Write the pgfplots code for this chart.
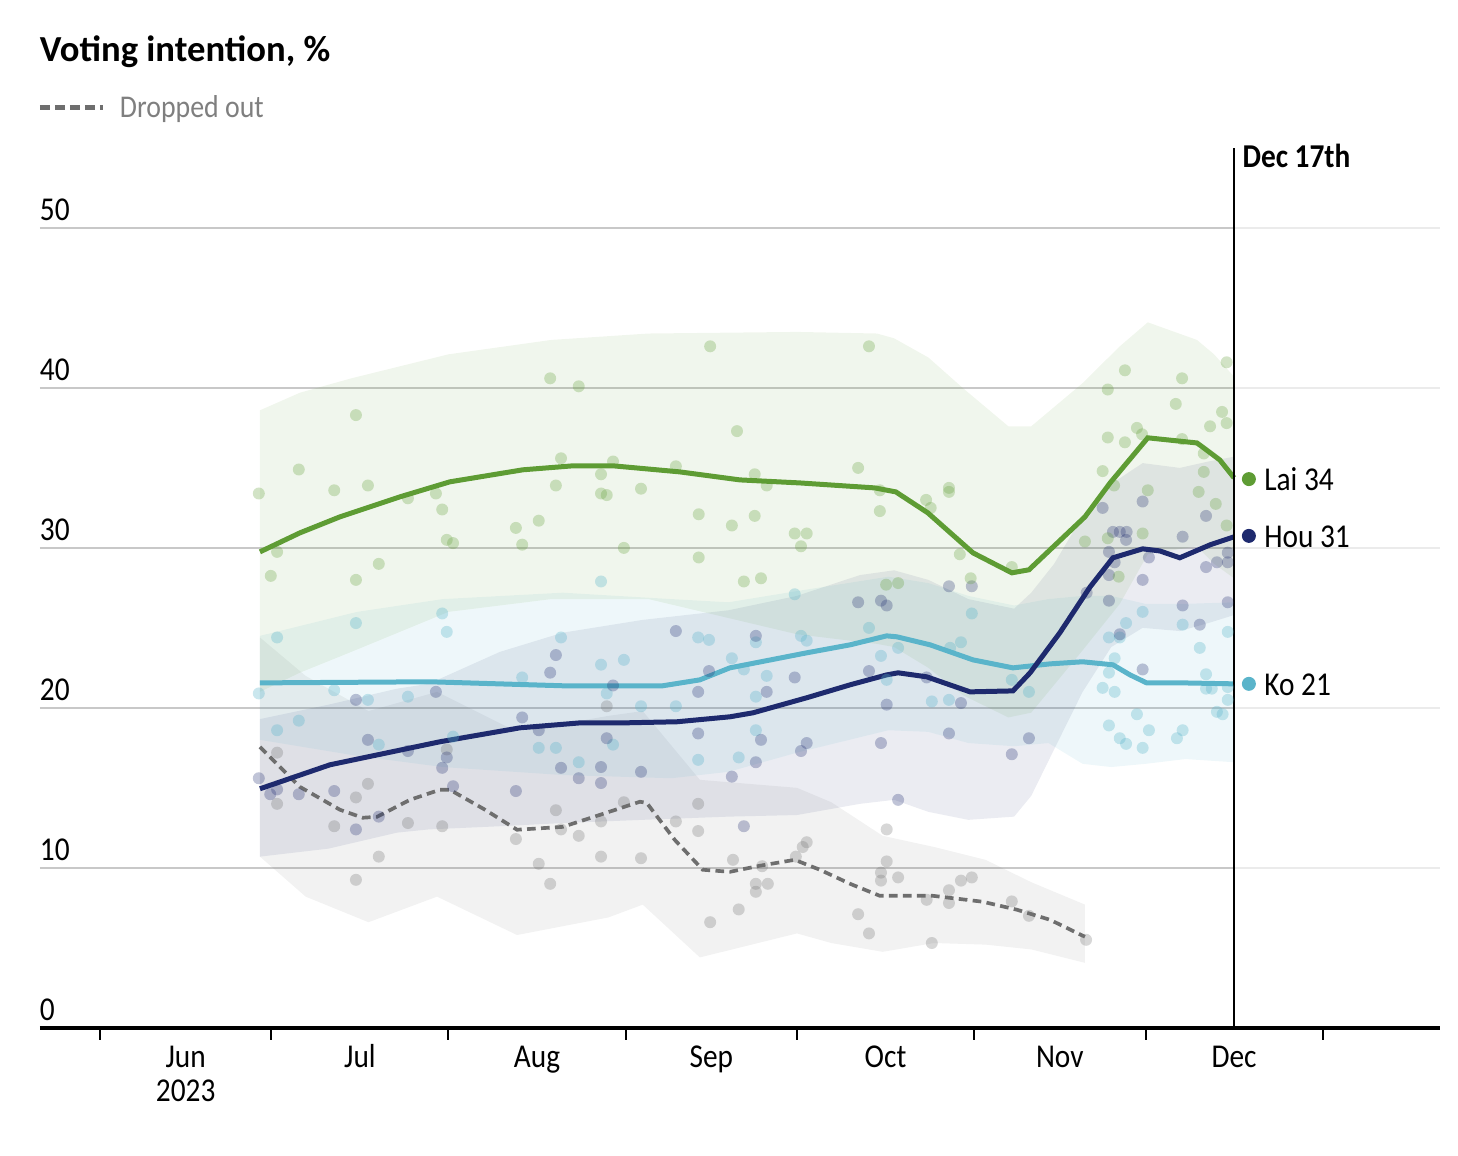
\documentclass[border=0pt]{standalone}
\usepackage{pgfplots}
\pgfplotsset{compat=1.18}
\usepackage{fontspec}
\setmainfont{Carlito}
\newfontfamily\lab{Carlito}[FakeStretch=0.88]
\definecolor{laic}{HTML}{5E9C34}
\definecolor{houc}{HTML}{1E2A6E}
\definecolor{koc}{HTML}{5AB4CA}
\definecolor{dropc}{HTML}{6E6E6E}
\definecolor{gridc}{HTML}{C8C8C8}
\definecolor{gridl}{HTML}{EBEBEB}
\definecolor{legc}{HTML}{7F7F7F}
\tikzset{lbl/.style={inner sep=0pt, outer sep=0pt, font=\lab\fontsize{10}{12}\selectfont}}
\begin{document}
\begin{tikzpicture}
\begin{axis}[
 scale only axis, width=420pt, height=264pt,
 xmin=-10.5, xmax=234.5, ymin=0, ymax=55,
 clip=false,
 axis x line*=bottom, axis y line=none,
 x axis line style={line width=1.2pt, black, -},
 xtick={0,30,61,92,122,153,183,214}, xticklabels={},
 tick align=outside, major tick length=3.6pt,
 xtick style={black, line width=0.6pt},
 ytick=\empty,
]
% canvas
\path (axis cs:-17.5,-8) rectangle (axis cs:237.7,64.25);
% grid
\draw[gridc, line width=0.6pt] (axis cs:-10.5,10) -- (axis cs:198.5,10);
\draw[gridc, line width=0.6pt] (axis cs:-10.5,20) -- (axis cs:198.5,20);
\draw[gridc, line width=0.6pt] (axis cs:-10.5,30) -- (axis cs:198.5,30);
\draw[gridc, line width=0.6pt] (axis cs:-10.5,40) -- (axis cs:198.5,40);
\draw[gridc, line width=0.6pt] (axis cs:-10.5,50) -- (axis cs:198.5,50);
\draw[gridl, line width=0.6pt] (axis cs:198.5,10) -- (axis cs:234.5,10);
\draw[gridl, line width=0.6pt] (axis cs:198.5,20) -- (axis cs:234.5,20);
\draw[gridl, line width=0.6pt] (axis cs:198.5,30) -- (axis cs:234.5,30);
\draw[gridl, line width=0.6pt] (axis cs:198.5,40) -- (axis cs:234.5,40);
\draw[gridl, line width=0.6pt] (axis cs:198.5,50) -- (axis cs:234.5,50);

% bands
\addplot[draw=none, fill=dropc, fill opacity=0.09] coordinates {
(28,24.4)(36,22.0)(47,19.8)(59,21.0)(73,18.5)(89,19.5)(95,19.8)(105,15.5)(122,15.0)(128,14.1)(137,12.0)(146,11.3)(155,10.5)(163,9.1)(172.4,7.7)
(172.4,4.06)(163,4.9)(155,5.2)(146,5.3)(137,4.75)(128,5.3)(122,5.9)(105,4.4)(95,7.7)(89,6.9)(73,5.8)(59,8.2)(47,6.6)(36,8.2)(28,10.7)} -- cycle;
\addplot[draw=none, fill=houc, fill opacity=0.09] coordinates {
(28,19.3)(40,20.2)(52,21.2)(57.5,21.5)(70,23.5)(81,24.7)(95,25.5)(110,26.1)(122,27.0)(133,28.3)(139,28.6)(145,28.0)(152,26.8)(160,26.2)(163,27.2)(167,29.0)(172,32.0)(177,34.0)(182.5,35.3)(189,35.0)(194,35.4)(198.5,35.7)
(198.5,25.8)(194,25.3)(189,24.8)(182.5,25.0)(177,23.8)(172,21.0)(167,17.4)(163,14.5)(160,13.2)(152,13.0)(145,13.5)(139,14.25)(133,14.0)(122,13.3)(110,13.2)(95,13.0)(81,12.8)(70,12.6)(57.5,12.4)(52,12.2)(40,11.2)(28,10.7)} -- cycle;
\addplot[draw=none, fill=koc, fill opacity=0.1] coordinates {
(28,24.5)(45,26.0)(60,26.8)(81,27.2)(100,26.8)(110,26.6)(122,27.3)(138,28.2)(145,27.8)(152,27.0)(160,26.4)(166,26.8)(172,27.0)(177,27.0)(183,26.5)(190,26.5)(198.5,26.6)
(198.5,16.6)(190,16.8)(183,16.5)(177,16.3)(172,16.5)(166,17.8)(160,17.6)(152,17.8)(145,18.5)(138,18.6)(122,17.2)(110,16.0)(100,15.6)(81,15.8)(60,16.3)(45,17.0)(28,18.0)} -- cycle;
\addplot[draw=none, fill=laic, fill opacity=0.09] coordinates {
(28,38.6)(35,39.7)(44,40.6)(61,42.1)(79,43.0)(96,43.4)(122,43.5)(136,43.4)(139,43.1)(145,41.9)(151,40.0)(159,37.6)(163,37.6)(172,40.3)(178.5,42.6)(183.4,44.1)(192,43.0)(195,42.1)(198.5,40.7)
(198.5,28.1)(195,29.0)(192,30.1)(183.4,29.6)(178.5,26.5)(172,23.6)(163,19.7)(159,19.4)(151,20.8)(145,22.5)(139,23.8)(136,24.0)(122,24.6)(96,26.8)(79,26.8)(61,26.0)(44,23.5)(35,22.2)(28,21.0)} -- cycle;

% poll dots
\addplot[only marks, mark=*, mark size=1.8pt, color=dropc, mark options={draw opacity=0, fill=dropc, fill opacity=0.28}] coordinates {
(31.0,17.2)(31.0,14.0)(41.0,12.6)(44.8,14.4)(44.8,9.25)(46.9,15.25)(48.8,10.7)(53.9,12.8)(59.9,12.6)(60.7,17.4)
(72.8,11.8)(76.8,10.25)(78.8,9.0)(79.8,13.6)(80.7,12.4)(83.8,12.0)(87.7,12.9)(87.7,10.7)(88.7,20.1)(91.7,14.1)
(94.7,10.6)(100.8,12.9)(104.7,14.0)(104.7,12.3)(106.8,6.6)(111.8,7.4)(110.8,10.5)(114.8,9.0)(114.8,8.5)(116.9,9.0)
(115.9,10.1)(121.8,10.7)(123.7,11.6)(123.0,11.3)(137.7,12.4)(137.7,10.4)(136.7,9.7)(136.7,9.2)(139.7,9.4)(132.7,7.1)
(134.6,5.9)(144.7,8.0)(145.6,5.3)(148.6,8.6)(148.6,7.8)(150.7,9.2)(152.6,9.4)(159.6,7.9)(162.6,7.0)(172.6,5.5)};
\addplot[only marks, mark=*, mark size=1.8pt, color=koc, mark options={draw opacity=0, fill=koc, fill opacity=0.32}] coordinates {
(27.8,20.9)(31.0,24.4)(31.0,18.6)(34.8,19.2)(41.0,21.1)(44.8,25.3)(46.9,20.5)(48.8,17.7)(53.9,20.7)(59.9,25.9)
(60.7,24.75)(61.8,18.2)(73.9,21.9)(76.8,17.5)(79.8,17.5)(80.7,24.4)(83.8,16.6)(87.7,22.7)(87.7,27.9)(88.7,20.9)
(89.8,17.7)(91.7,23.0)(94.7,20.1)(100.8,20.1)(104.7,24.4)(104.7,16.75)(106.6,24.25)(110.6,23.1)(112.7,22.4)(114.8,24.1)
(114.8,20.7)(114.8,18.6)(116.7,22.0)(111.8,16.9)(121.6,27.1)(122.7,24.5)(123.7,24.2)(134.6,25.0)(136.7,23.25)(137.7,21.75)
(139.7,23.75)(145.6,20.4)(148.6,20.5)(150.7,24.1)(152.6,25.9)(159.6,21.75)(148.8,23.75)(162.6,21.0)(176.6,24.4)(178.5,24.4)
(179.6,25.3)(176.6,22.2)(175.5,21.25)(177.6,21.0)(177.6,23.1)(176.6,18.9)(178.5,18.1)(179.6,17.75)(181.5,19.6)(182.5,17.5)
(183.6,18.6)(182.5,26.0)(189.5,25.2)(188.5,18.1)(189.5,18.6)(192.5,23.75)(193.6,22.1)(193.6,21.2)(194.6,21.2)(197.4,24.75)
(197.4,21.3)(197.4,20.5)(195.5,19.75)(196.5,19.6)};
\addplot[only marks, mark=*, mark size=1.8pt, color=houc, mark options={draw opacity=0, fill=houc, fill opacity=0.28}] coordinates {
(27.8,15.6)(29.8,14.6)(31.0,14.9)(34.8,14.6)(41.0,14.8)(44.8,20.5)(44.8,12.4)(46.9,18.0)(48.8,13.2)(53.9,17.3)
(58.8,21.0)(59.9,16.25)(60.7,16.9)(61.8,15.1)(72.8,14.8)(73.9,19.4)(76.8,18.6)(78.8,22.2)(79.8,23.3)(80.7,16.25)
(83.8,15.6)(87.7,16.3)(87.7,15.3)(88.7,18.1)(89.8,21.4)(94.7,16.0)(100.8,24.8)(104.7,21.0)(104.7,18.4)(106.6,22.3)
(114.8,24.5)(116.7,21.0)(121.6,21.9)(115.7,18.0)(114.8,16.6)(110.6,15.7)(123.7,17.8)(122.7,17.3)(112.7,12.6)(132.7,26.6)
(136.7,26.7)(137.7,26.4)(134.6,22.3)(137.7,20.2)(136.7,17.8)(139.7,14.25)(144.7,21.9)(148.6,27.6)(152.6,27.6)(148.6,18.4)
(150.7,20.3)(159.6,17.1)(162.6,18.1)(175.5,32.5)(177.3,31.0)(178.5,31.0)(179.7,31.0)(179.6,30.5)(176.6,29.75)(176.6,28.3)
(177.6,29.1)(176.6,26.7)(172.7,27.2)(178.5,24.6)(182.5,28.0)(183.6,29.4)(182.5,22.4)(182.5,32.9)(189.5,30.7)(189.5,26.4)
(192.5,25.2)(193.6,32.0)(193.6,28.8)(195.5,29.1)(197.4,29.1)(197.4,29.7)(197.4,26.6)};
\addplot[only marks, mark=*, mark size=1.8pt, color=laic, mark options={draw opacity=0, fill=laic, fill opacity=0.28}] coordinates {
(27.8,33.4)(29.9,28.25)(31.0,29.75)(34.8,34.9)(41.0,33.6)(44.8,38.3)(44.8,28.0)(46.9,33.9)(48.8,29.0)(53.9,33.1)
(58.8,33.4)(59.9,32.4)(60.7,30.5)(61.8,30.3)(72.8,31.25)(73.9,30.2)(76.8,31.7)(78.8,40.6)(79.8,33.9)(80.7,35.6)
(83.8,40.1)(87.7,34.6)(87.7,33.4)(88.7,33.3)(89.8,35.4)(91.7,30.0)(94.7,33.7)(100.8,35.1)(104.8,32.1)(104.8,29.4)
(106.8,42.6)(110.6,31.4)(111.5,37.3)(114.6,34.6)(116.7,33.9)(114.6,32.0)(121.6,30.9)(123.7,30.9)(122.7,30.1)(112.7,27.9)
(115.7,28.1)(134.6,42.6)(132.7,35.0)(136.5,33.6)(136.5,32.3)(137.6,27.7)(139.7,27.8)(144.6,33.0)(145.4,32.5)(148.6,33.75)
(148.6,33.5)(150.5,29.6)(152.4,28.1)(159.6,28.8)(172.4,30.4)(175.5,34.8)(176.4,39.9)(176.4,36.9)(176.4,30.6)(177.5,33.9)
(178.3,28.2)(179.4,41.1)(179.4,36.6)(181.5,37.5)(182.4,37.1)(183.4,33.6)(182.5,30.9)(188.3,39.0)(189.4,40.6)(189.4,36.8)
(192.3,33.5)(193.2,35.9)(193.2,34.75)(194.3,37.6)(195.3,32.75)(196.4,38.5)(197.2,37.8)(197.2,41.6)(197.2,31.4)};

% trend lines
\addplot[dropc, line width=1.1pt, dash pattern=on 2.6pt off 1.6pt] coordinates {
(28.0,17.56)(35.0,15.06)(42.0,13.63)(46.0,13.13)(48.5,13.19)(54.25,14.25)(59.5,14.88)(61.25,14.88)(67.4,13.63)(73.0,12.38)
(81.0,12.56)(87.5,13.31)(94.5,14.13)(95.7,14.06)(100.6,11.75)(105.5,9.88)(110.25,9.75)(115.5,10.13)(121.6,10.5)(126.0,9.88)
(131.3,9.0)(136.5,8.25)(145.8,8.25)(154.5,7.88)(160.5,7.38)(166.3,6.75)(172.4,5.69)};
\addplot[koc, line width=1.5pt] coordinates {
(28.0,21.56)(57.75,21.63)(81.0,21.38)(98.5,21.38)(105.0,21.75)(110.25,22.5)(123.7,23.44)(131.3,23.94)(137.7,24.5)(139.5,24.44)
(145.3,23.94)(152.8,23.0)(159.8,22.5)(166.3,22.75)(172.0,22.88)(177.3,22.69)(180.3,22.06)(183.2,21.56)(189.5,21.56)(198.5,21.5)};
\addplot[houc, line width=1.5pt] coordinates {
(28.0,14.94)(40.25,16.44)(59.5,17.88)(73.5,18.75)(84.0,19.06)(91.5,19.06)(101.0,19.13)(110.25,19.44)(114.3,19.69)(123.7,20.63)
(131.3,21.44)(137.7,22.06)(139.7,22.19)(144.7,21.94)(152.3,21.0)(159.8,21.06)(162.8,22.19)(168.0,24.69)(173.3,27.56)(177.3,29.38)
(182.5,29.94)(185.5,29.81)(189.0,29.38)(194.3,30.19)(198.5,30.69)};
\addplot[laic, line width=1.5pt] coordinates {
(28.0,29.75)(35.0,30.94)(42.0,31.94)(52.5,33.19)(61.25,34.13)(74.0,34.88)(82.8,35.13)(89.8,35.13)(101.5,34.75)(112.0,34.25)
(122.5,34.06)(135.6,33.75)(139.3,33.5)(144.9,32.19)(152.8,29.69)(159.6,28.44)(162.6,28.63)(172.4,31.94)(176.8,34.06)(183.4,36.88)
(192.0,36.56)(193.2,36.25)(196.0,35.5)(198.5,34.38)};

% Dec 17th marker
\addplot[black, line width=0.6pt] coordinates {(198.5,0) (198.5,55)};
\node[lbl, anchor=base west, font=\lab\bfseries\fontsize{10}{12}\selectfont] at (axis cs:200.0,53.75) {Dec 17th};

% end labels
\addplot[only marks, mark=*, mark size=2.1pt, color=laic, mark options={draw opacity=0, fill=laic}] coordinates {(201.1,34.3)};
\addplot[only marks, mark=*, mark size=2.1pt, color=houc, mark options={draw opacity=0, fill=houc}] coordinates {(201.1,30.75)};
\addplot[only marks, mark=*, mark size=2.1pt, color=koc, mark options={draw opacity=0, fill=koc}] coordinates {(201.1,21.5)};
\node[lbl, anchor=base west] at (axis cs:203.8,33.6) {Lai 34};
\node[lbl, anchor=base west] at (axis cs:203.8,30.05) {Hou 31};
\node[lbl, anchor=base west] at (axis cs:203.8,20.8) {Ko 21};

% y labels
\node[lbl, anchor=base west] at (axis cs:-10.5,50.45) {50};
\node[lbl, anchor=base west] at (axis cs:-10.5,40.45) {40};
\node[lbl, anchor=base west] at (axis cs:-10.5,30.45) {30};
\node[lbl, anchor=base west] at (axis cs:-10.5,20.45) {20};
\node[lbl, anchor=base west] at (axis cs:-10.5,10.45) {10};
\node[lbl, anchor=base west] at (axis cs:-10.5,0.45) {0};

% month labels
\node[lbl, anchor=base] at (axis cs:15,-2.5) {Jun};
\node[lbl, anchor=base] at (axis cs:15,-4.6) {2023};
\node[lbl, anchor=base] at (axis cs:45.5,-2.5) {Jul};
\node[lbl, anchor=base] at (axis cs:76.5,-2.5) {Aug};
\node[lbl, anchor=base] at (axis cs:107,-2.5) {Sep};
\node[lbl, anchor=base] at (axis cs:137.5,-2.5) {Oct};
\node[lbl, anchor=base] at (axis cs:168,-2.5) {Nov};
\node[lbl, anchor=base] at (axis cs:198.5,-2.5) {Dec};

% title and legend
\node[lbl, anchor=base west, font=\bfseries\fontsize{11}{13}\selectfont] at (axis cs:-10.5,60.4) {Voting intention, \%};
\addplot[dropc, line width=1.5pt, dash pattern=on 3pt off 1.5pt] coordinates {(-10.5,57.55) (0.6,57.55)};
\node[lbl, anchor=base west, text=legc, font=\lab\fontsize{9.5}{11}\selectfont] at (axis cs:3.5,56.9) {Dropped out};
\end{axis}
\end{tikzpicture}
\end{document}
